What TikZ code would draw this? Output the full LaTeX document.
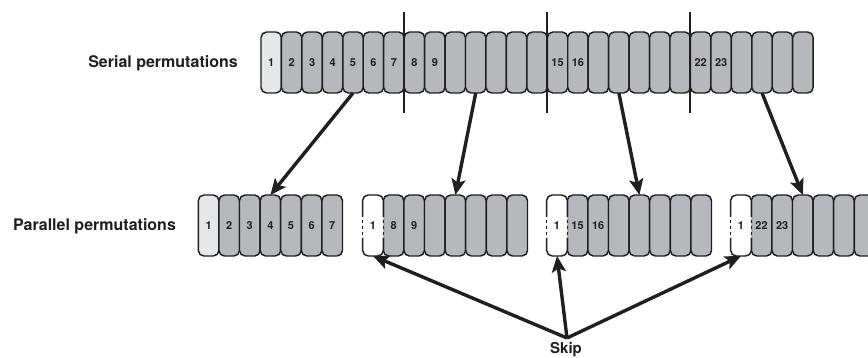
\documentclass[tikz,border=0pt]{standalone}
\usepackage{fontspec}
\setmainfont{TeX Gyre Heros}
\usetikzlibrary{arrows.meta,calc}
\definecolor{cellgray}{RGB}{183,184,187}
\definecolor{celllight}{RGB}{230,231,232}
\definecolor{ink}{RGB}{32,30,31}
\begin{document}
\begin{tikzpicture}[x=1pt,y=-1pt,
  basecell/.style={draw=ink, line width=1.45pt, rounded corners=5.5pt, fill=cellgray,
    minimum height=61pt, inner sep=0pt, outer sep=0pt, text=ink,
    font=\bfseries\fontsize{11}{11}\selectfont},
  scell/.style={basecell, minimum width=20.45pt},
  pcell/.style={basecell, minimum width=20.6pt},
  num/.style={inner sep=0pt, text=ink, font=\bfseries\fontsize{11}{11}\selectfont},
  lbl/.style={inner sep=0pt, text=ink, font=\bfseries\fontsize{16}{16}\selectfont},
  sepline/.style={draw=ink, line width=2pt},
  bigarrow/.style={draw=ink, line width=3.4pt, -{Stealth[length=16pt,width=14pt,inset=3.5pt]}},
  edge/.style={draw=ink, line width=1.45pt},
  dashedge/.style={draw=ink, line width=1.45pt, dash pattern=on 3pt off 3pt, dash phase=3pt}
]
\useasboundingbox (0,0) rectangle (868,358);
\clip (0,0) rectangle (868,358);

% labels
\node[lbl] (serlbl) at (163,63) {Serial permutations};
\node[lbl] (parlbl) at (94.5,226.5) {Parallel permutations};

% serial row
\node[scell, fill=celllight] (s1) at ({261+20.45*0.5},62.5) {};
\foreach \i in {2,...,27}
  \node[scell] (s\i) at ({261+20.45*(\i-0.5)},62.5) {};
\foreach \i in {1,...,9,15,16,22,23}
  \node[num] (sl\i) at (s\i) {\i};

% separators
\foreach \i in {7,14,21}
  \draw[sepline] ([yshift=20pt]s\i.north east) -- ([yshift=-20pt]s\i.south east);

% parallel group 1
\node[pcell, fill=celllight] (a1) at ({198.3+20.6*0.5},225.5) {};
\foreach \i in {2,...,7}
  \node[pcell] (a\i) at ({198.3+20.6*(\i-0.5)},225.5) {};
\foreach \i in {1,...,7}
  \node[num] (al\i) at (a\i) {\i};

% parallel groups 2-4
\foreach \g/\x in {b/362.7,c/546.7,d/730.7}{
  \foreach \i in {2,...,8}
    \node[pcell] (\g\i) at ({\x+20.6*(\i-0.5)},225.5) {};
  \node[pcell, fill=white, draw=none] (\g1) at ({\x+20.6*0.5},225.5) {};
  % clear the shared edge in the dashed region
  \fill[white] ($(\g2.north west)+(-0.8,22)$) rectangle ($(\g2.north west)+(0,43)$);
  \fill[cellgray] ($(\g2.north west)+(0,22)$) rectangle ($(\g2.north west)+(0.8,43)$);
  % outline of the white cell
  \draw[edge, rounded corners=5.5pt] ($(\g1.north west)+(0,22)$) -- (\g1.north west)
     -- (\g1.north east) -- ($(\g1.north east)+(0,22)$);
  \draw[edge, rounded corners=5.5pt] ($(\g1.north west)+(0,43)$) -- (\g1.south west)
     -- (\g1.south east) -- ($(\g1.north east)+(0,43)$);
  \draw[dashedge] ($(\g1.north west)+(0,22)$) -- ($(\g1.north west)+(0,43)$);
  \draw[dashedge] ($(\g1.north east)+(0,22)$) -- ($(\g1.north east)+(0,43)$);
  \node[num] (\g l1) at (\g1) {1};
}
\node[num] (bl2) at (b2) {8};
\node[num] (bl3) at (b3) {9};
\node[num] (cl2) at (c2) {15};
\node[num] (cl3) at (c3) {16};
\node[num] (dl2) at (d2) {22};
\node[num] (dl3) at (d3) {23};

% serial -> parallel arrows
\draw[bigarrow] (s5.south) -- (a4.north);
\draw[bigarrow] (s11.south) -- (b5.north);
\draw[bigarrow] (s18.south) -- (c5.north);
\draw[bigarrow] (s25.south) -- (d4.north);

% skip arrows
\coordinate (skip) at (567,338);
\node[inner sep=0pt, text=ink, font=\bfseries\fontsize{15}{15}\selectfont] (skiplbl) at (566,350) {Skip};
\draw[bigarrow] (skip) -- (b1.south);
\draw[bigarrow] (skip) -- (c1.south);
\draw[bigarrow] (skip) -- (d1.south);
\end{tikzpicture}
\end{document}
